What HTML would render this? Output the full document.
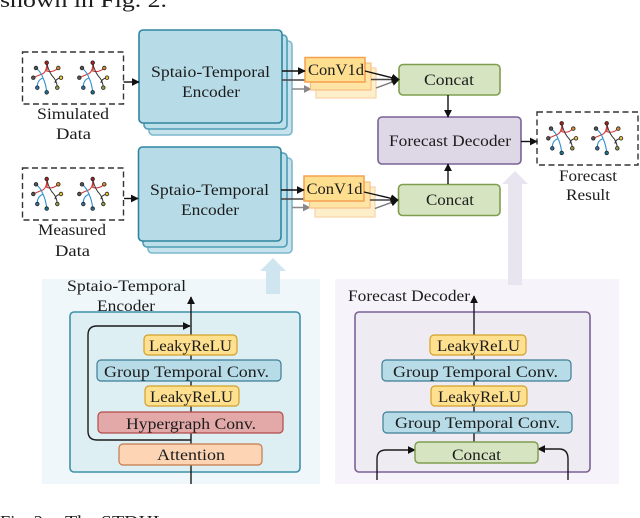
<!DOCTYPE html>
<html>
<head>
<meta charset="utf-8">
<style>
html,body{margin:0;padding:0;background:#fff}
svg{display:block;filter:blur(.35px)}
text{font-family:"Liberation Serif",serif;fill:#1c1c1c;font-size:16px}
</style>
</head>
<body>
<svg width="640" height="518" viewBox="0 0 640 518" xmlns="http://www.w3.org/2000/svg">
<defs>
<marker id="a" viewBox="0 0 10 10" refX="9" refY="5" markerWidth="8" markerHeight="8" markerUnits="userSpaceOnUse" orient="auto"><path d="M0 0L10 5L0 10Z" fill="#111"/></marker>
<marker id="g" viewBox="0 0 10 10" refX="9" refY="5" markerWidth="8" markerHeight="8" markerUnits="userSpaceOnUse" orient="auto"><path d="M0 0L10 5L0 10Z" fill="#888"/></marker>
<g id="ic">
<path d="M46.7 63Q47 72 42 74Q37 76 33.3 77.7M58.3 68Q53 73 46.7 71Q48 68 46.7 63" fill="none" stroke="#d33a3a" stroke-width="1.1"/>
<path d="M36 68Q41 72 43 78Q46 84 46.7 92.3M37.3 87.7Q37 80 43 78" fill="none" stroke="#2f8fd0" stroke-width="1.1"/>
<path d="M46.7 63Q49 73 54 78Q57 82 57.3 87.7M61 77.7Q55 79 55 83" fill="none" stroke="#333" stroke-width="1"/>
<g stroke="#222" stroke-width=".8">
<circle cx="46.7" cy="62.7" r="1.8" fill="#a52020"/>
<circle cx="58.3" cy="68" r="1.8" fill="#e08a30"/>
<circle cx="36" cy="68" r="1.8" fill="#555"/>
<circle cx="61" cy="77.7" r="1.8" fill="#eec040"/>
<circle cx="33.3" cy="77.7" r="1.8" fill="#555"/>
<circle cx="57.3" cy="87.7" r="1.8" fill="#999a40"/>
<circle cx="46.7" cy="92.3" r="1.8" fill="#1f6f90"/>
<circle cx="37.3" cy="87.7" r="1.8" fill="#2f70a8"/>
</g>
</g>
</defs>

<text x="0" y="7" style="font-size:21px" textLength="167" lengthAdjust="spacingAndGlyphs">shown in Fig. 2.</text>
<text x="0" y="527" style="font-size:17px" textLength="48" lengthAdjust="spacingAndGlyphs">Fig. 2:</text>
<text x="65" y="527" style="font-size:17px" textLength="100" lengthAdjust="spacingAndGlyphs">The STDHL</text>

<!-- panels -->
<rect x="42" y="279" width="278" height="205" fill="#eff7fa"/>
<rect x="335" y="279" width="284" height="205" fill="#f6f4fa"/>

<!-- big arrows -->
<path d="M273 258L286 271H280V294H266V271H260Z" fill="#cfe6f0"/>
<path d="M515 171L528 184H522V285H508V184H502Z" fill="#e8e4f0"/>

<!-- dashed boxes -->
<g fill="#fff" stroke="#333" stroke-width="1.4" stroke-dasharray="6 3.5">
<rect x="22.5" y="52" width="101" height="52"/>
<rect x="22.5" y="168" width="101" height="52"/>
<rect x="537" y="112" width="101" height="53"/>
</g>
<use href="#ic"/><use href="#ic" x="46"/>
<use href="#ic" y="116.3"/><use href="#ic" x="46" y="116.3"/>
<use href="#ic" x="515" y="60.6"/><use href="#ic" x="560" y="60.6"/>

<!-- encoders -->
<g stroke-width="1.6">
<rect x="149" y="41" width="143" height="94" rx="4" fill="#c6e2ec" stroke="#7db8cc"/>
<rect x="144" y="35" width="143" height="94" rx="4" fill="#bcdfe9" stroke="#4f9db6"/>
<rect x="139" y="30" width="143" height="93" rx="4" fill="#b7dce8" stroke="#2f85a0"/>
<rect x="148" y="158" width="144" height="95" rx="4" fill="#c6e2ec" stroke="#7db8cc"/>
<rect x="143" y="153" width="144" height="94" rx="4" fill="#bcdfe9" stroke="#4f9db6"/>
<rect x="138.5" y="147" width="142.5" height="94" rx="4" fill="#b7dce8" stroke="#2f85a0"/>
</g>

<!-- arrows behind conv -->
<g fill="none" stroke-width="1.4">
<path d="M123.5 82H139" stroke="#111" marker-end="url(#a)"/>
<path d="M124 198.5H138" stroke="#111" marker-end="url(#a)"/>
<path d="M282 80H306" stroke="#444"/>
<path d="M292 89H311" stroke="#888" marker-end="url(#g)"/>
<path d="M281 199H305" stroke="#444"/>
<path d="M292 207.5H310" stroke="#888" marker-end="url(#g)"/>
</g>

<!-- conv stacks -->
<g stroke-width="1.2">
<rect x="316" y="68" width="60" height="30" fill="#feefcb" stroke="#fbd3a8"/>
<rect x="310.5" y="63" width="60.5" height="27" fill="#fee5a6" stroke="#f8bf85"/>
<rect x="305" y="57.5" width="60" height="24.5" fill="#fedf90" stroke="#f5a050" stroke-width="1.5"/>
<rect x="315" y="187" width="60" height="30" fill="#feefcb" stroke="#fbd3a8"/>
<rect x="309.5" y="182" width="60.5" height="26" fill="#fee5a6" stroke="#f8bf85"/>
<rect x="304" y="176" width="60" height="25" fill="#fedf90" stroke="#f5a050" stroke-width="1.5"/>
</g>

<!-- concat / decoder -->
<rect x="399" y="64.5" width="101" height="30.5" rx="4" fill="#d6e4c1" stroke="#7f9f4f" stroke-width="1.6"/>
<rect x="398.5" y="184.5" width="101.5" height="31" rx="4" fill="#d6e4c1" stroke="#7f9f4f" stroke-width="1.6"/>
<rect x="378" y="117" width="143" height="47" rx="4" fill="#ddd7e6" stroke="#7a6296" stroke-width="1.6"/>

<g fill="none" stroke-width="1.4">
<path d="M282 71H305" stroke="#111" marker-end="url(#a)"/>
<path d="M281 190H304" stroke="#111" marker-end="url(#a)"/>
<path d="M365 71L399 79.5" stroke="#111" marker-end="url(#a)"/>
<path d="M371 79.5H399" stroke="#444" marker-end="url(#a)"/>
<path d="M376 88L399 79.5" stroke="#777" marker-end="url(#a)"/>
<path d="M364 192L398 200" stroke="#111" marker-end="url(#a)"/>
<path d="M370 200H398" stroke="#444" marker-end="url(#a)"/>
<path d="M375 208.5L398 200" stroke="#777" marker-end="url(#a)"/>
<path d="M448 95V117" stroke="#111" marker-end="url(#a)"/>
<path d="M448 184V164" stroke="#111" marker-end="url(#a)"/>
<path d="M521 141.5H537" stroke="#111" marker-end="url(#a)"/>
</g>

<!-- inner panels -->
<rect x="70" y="312" width="230" height="160" rx="4" fill="#deeff4" stroke="#3f90aa" stroke-width="1.6"/>
<rect x="355" y="312" width="235" height="160" rx="4" fill="#eeecf2" stroke="#7a6296" stroke-width="1.6"/>

<!-- inner lines -->
<g fill="none" stroke="#1a1a1a" stroke-width="1.4">
<path d="M191 484V297" marker-end="url(#a)"/>
<path d="M191 440H97Q88 440 88 431V335Q88 326 97 326H190" marker-end="url(#a)"/>
<path d="M474 442V296" marker-end="url(#a)"/>
<path d="M377 480V459Q377 450 386 450H415" marker-end="url(#a)"/>
<path d="M568 480V459Q568 449 559 449H538" marker-end="url(#a)"/>
</g>

<!-- blocks -->
<g stroke-width="1.2">
<rect x="144" y="335" width="93" height="20" rx="4" fill="#fee08e" stroke="#d3a028"/>
<rect x="97" y="360" width="184" height="21" rx="4" fill="#b7dce8" stroke="#3d7d94"/>
<rect x="145" y="386" width="94" height="20" rx="4" fill="#fee08e" stroke="#d3a028"/>
<rect x="98" y="412" width="185" height="21" rx="4" fill="#e3a9a9" stroke="#b24a4a"/>
<rect x="119" y="444" width="143" height="21" rx="4" fill="#fdd5b5" stroke="#c47a4a"/>
<rect x="430" y="335" width="96" height="20" rx="4" fill="#fee08e" stroke="#d3a028"/>
<rect x="382" y="360" width="189" height="21" rx="4" fill="#b7dce8" stroke="#3d7d94"/>
<rect x="431" y="386" width="96" height="20" rx="4" fill="#fee08e" stroke="#d3a028"/>
<rect x="383" y="412" width="189" height="21" rx="4" fill="#b7dce8" stroke="#3d7d94"/>
<rect x="415" y="442" width="123" height="21" rx="4" fill="#d6e4c1" stroke="#7f9f4f" stroke-width="1.5"/>
</g>

<!-- labels -->
<g>
<text x="37" y="119" textLength="72" lengthAdjust="spacingAndGlyphs">Simulated</text>
<text x="56" y="139" textLength="35" lengthAdjust="spacingAndGlyphs">Data</text>
<text x="38" y="235" textLength="68" lengthAdjust="spacingAndGlyphs">Measured</text>
<text x="55" y="256" textLength="35" lengthAdjust="spacingAndGlyphs">Data</text>
<text x="559" y="181" textLength="58" lengthAdjust="spacingAndGlyphs">Forecast</text>
<text x="566" y="200" textLength="44" lengthAdjust="spacingAndGlyphs">Result</text>

<text x="151" y="77" textLength="119" lengthAdjust="spacingAndGlyphs">Sptaio-Temporal</text>
<text x="182" y="97" textLength="58" lengthAdjust="spacingAndGlyphs">Encoder</text>
<text x="150" y="195" textLength="119" lengthAdjust="spacingAndGlyphs">Sptaio-Temporal</text>
<text x="181" y="215" textLength="58" lengthAdjust="spacingAndGlyphs">Encoder</text>

<text x="308" y="75" textLength="56" lengthAdjust="spacingAndGlyphs">ConV1d</text>
<text x="306.5" y="194" textLength="56" lengthAdjust="spacingAndGlyphs">ConV1d</text>
<text x="424" y="85" textLength="50" lengthAdjust="spacingAndGlyphs">Concat</text>
<text x="426" y="205" textLength="48" lengthAdjust="spacingAndGlyphs">Concat</text>
<text x="389" y="146" textLength="122" lengthAdjust="spacingAndGlyphs">Forecast Decoder</text>

<text x="67" y="291" textLength="119" lengthAdjust="spacingAndGlyphs">Sptaio-Temporal</text>
<text x="97" y="311" textLength="58" lengthAdjust="spacingAndGlyphs">Encoder</text>
<text x="149" y="351" textLength="83" lengthAdjust="spacingAndGlyphs">LeakyReLU</text>
<text x="104" y="377" textLength="165" lengthAdjust="spacingAndGlyphs">Group Temporal Conv.</text>
<text x="150" y="402" textLength="83" lengthAdjust="spacingAndGlyphs">LeakyReLU</text>
<text x="126" y="429" textLength="130" lengthAdjust="spacingAndGlyphs">Hypergraph Conv.</text>
<text x="157" y="460" textLength="68" lengthAdjust="spacingAndGlyphs">Attention</text>

<text x="348" y="301" textLength="122" lengthAdjust="spacingAndGlyphs">Forecast Decoder</text>
<text x="437" y="351" textLength="83" lengthAdjust="spacingAndGlyphs">LeakyReLU</text>
<text x="393" y="377" textLength="165" lengthAdjust="spacingAndGlyphs">Group Temporal Conv.</text>
<text x="438" y="402" textLength="83" lengthAdjust="spacingAndGlyphs">LeakyReLU</text>
<text x="395" y="428" textLength="165" lengthAdjust="spacingAndGlyphs">Group Temporal Conv.</text>
<text x="452" y="460" textLength="49" lengthAdjust="spacingAndGlyphs">Concat</text>
</g>
</svg>
</body>
</html>
